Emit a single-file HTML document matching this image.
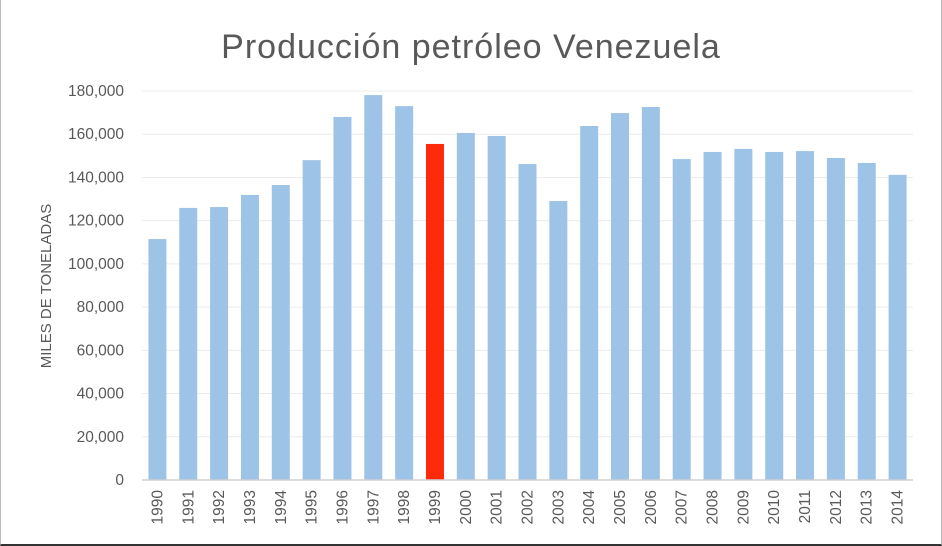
<!DOCTYPE html>
<html><head><meta charset="utf-8"><style>
html,body{margin:0;padding:0;background:#fff;}
#wrap{position:relative;width:942px;height:546px;box-sizing:border-box;border-left:1px solid #bbb;border-right:1px solid #bbb;border-bottom:2px solid #333;overflow:hidden;}
svg text{font-family:"Liberation Sans",sans-serif;}
</style></head><body>
<div id="wrap">
<svg id="chart" width="942" height="546"></svg>
</div>
<script>
const categories=["1990","1991","1992","1993","1994","1995","1996","1997","1998","1999","2000","2001","2002","2003","2004","2005","2006","2007","2008","2009","2010","2011","2012","2013","2014"];
const values=[111500,125900,126300,131900,136500,148000,168000,178100,173000,155500,160600,159200,146200,129100,163800,169800,172600,148500,151800,153200,151800,152200,149000,146700,141200];
const highlight=["1999"];
const yTicks=[0,20000,40000,60000,80000,100000,120000,140000,160000,180000];
const NS="http://www.w3.org/2000/svg";
const svg=document.getElementById('chart');
const x0=141,x1=912,yBase=480,yTop=91,yMax=180000;
const step=(x1-x0)/categories.length,bw=18;
function y(v){return yBase-(v/yMax)*(yBase-yTop);}
function xc(i){return x0+step*(i+0.5);}
function mk(t,a,txt){const e=document.createElementNS(NS,t);for(const k in a)e.setAttribute(k,a[k]);if(txt!==undefined)e.textContent=txt;svg.appendChild(e);return e;}
const title=mk('text',{x:470,y:58,'text-anchor':'middle','font-size':34,fill:'#595959','letter-spacing':'1'},'Producción petróleo Venezuela');


yTicks.forEach(t=>{
  if(t>0){const g=mk('line',{x1:x0,x2:x1,y1:y(t),y2:y(t),stroke:'#ececec','stroke-width':1});
  
  }
  const l=mk('text',{x:123,y:y(t)+5,'text-anchor':'end','font-size':15.5,fill:'#595959'},t.toLocaleString('en-US'));
  
  
});
categories.forEach((c,i)=>{
  const r=mk('rect',{x:xc(i)-bw/2,y:y(values[i]),width:bw,height:yBase-y(values[i]),fill:highlight.includes(c)?'#ff2a0a':'#9dc3e6'});
  
  
  const l=mk('text',{x:0,y:0,'text-anchor':'end','font-size':15.5,fill:'#595959',transform:`translate(${xc(i)+5},${yBase+10}) rotate(-90)`},c);
  
  
});
const ax=mk('line',{x1:x0,x2:x1,y1:yBase,y2:yBase,stroke:'#d0d0d0','stroke-width':1.5});


const yt=mk('text',{x:0,y:0,'text-anchor':'middle','font-size':15,fill:'#595959',transform:'translate(50,286) rotate(-90)'},'MILES DE TONELADAS');


</script>
</body></html>
